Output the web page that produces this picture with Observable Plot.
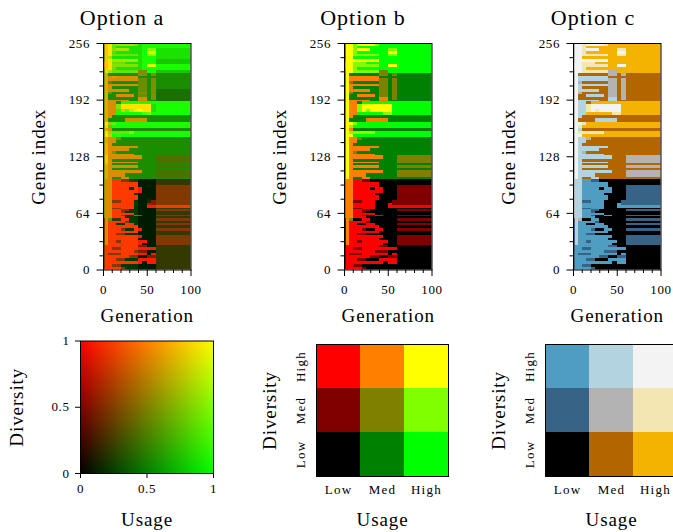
<!DOCTYPE html>
<html>
<head>
<meta charset="utf-8">
<script src="https://cdn.jsdelivr.net/npm/d3@7"></script>
<script src="https://cdn.jsdelivr.net/npm/@observablehq/plot@0.6"></script>
<style>
html,body{margin:0;padding:0;background:#fff;overflow:hidden}
#page{position:relative;width:673px;height:532px;overflow:hidden;font-family:"Liberation Serif",serif;color:#000}
#page svg{position:absolute;overflow:visible;background:none}
#page svg text{font-family:"Liberation Serif",serif;letter-spacing:.6px}
#page svg.lvl text{letter-spacing:1.3px}
#page svg g[aria-label="x-axis label"] text,#page svg g[aria-label="y-axis label"] text{font-size:19px;letter-spacing:.9px}
.title{position:absolute;font-size:22px;letter-spacing:1px;transform:translateX(-50%);white-space:nowrap;line-height:1}
</style>
</head>
<body>
<div id="page"></div>
<script>
const titles = ["Option a", "Option b", "Option c"];
const levels = ["Low", "Med", "High"];
const paletteB = ["#000000","#008000","#00ff00","#800000","#808000","#80ff00","#ff0000","#ff8000","#ffff00"];
const paletteC = ["#000000","#b36600","#f3b300","#376387","#b3b3b3","#f3e6b3","#509dc2","#b4d3e1","#f3f3f3"];
const diversityShade = [0,.1,.2,.3,.42,.5,.65,.85,1,1];
const geneTicks = [0,64,128,192,256];
const geneMinor = [16,32,48,80,96,112,144,160,176,208,224,240];
const genTicks = [0,50,100];
const genMinor = [10,20,30,40,60,70,80,90];
const unitTicks = [0,0.5,1];
const genEdges = [0,2,6,10,15,20,25,30,35,40,45,50,55,60,100];
const geneEdges = [256,253,250,247,244,241,238,235,232,229,225,222,
219,216,213,210,207,204,201,198,195,192,190,
187,184,181,178,175,
171,167,163,160,156.5,153,150,
146,143,140,137,134,131,129,125,122,120,118,115,112,109,105,102,
99,96,93,90,87,84,81,78,75,73,70,68,66,64,62,60,58,
55,52,50,47,44,41,39,36,33,30,28,
25,22,19,16,13,10,6,3,0];
const usageRows = [
"57888888889999","57888888889999","57888888889998","57888888889998","57888888889998","57888888889998","57888888889997","57888888889997","57888888889999","57888888889999","58888888855997",
"56555555555555","56555555555555","56555555555555","56555555555555","56555555555555","56555555555555","56555555555554","56555555555554","56555555555554","56555555555554","56555555555554",
"56555999999999","56558888888889","56558888888889","56558899998889","56559999999999",
"56555555555555","56555555555555","58799999999999","58799999999999","56555555555555","58888889999999","58799999999999",
"56555555555555","56555555555555","56555555555555","56555555555555","56555555555555","56555555555555","56555555555555","57555555555554","57555555555554","57555555555554","56555555555555","56555555555554","56555555555555","56555555555554","56555555555554","56555555555555",
"55522222211112","55522222211112","55522222211112","55522222211112","55522222211112","55522222211112","55522222211112","55522222211112","55522222211112","55522222211112","55522222211112","55522222211112","55522222211112","55522222211112","55522222211112","55522222211112","55522222211112",
"25522222211112","25222222211112","25222222211112","25222222211112","25222222211112","25222222211112","25222222211112","25222222211112","25222222211112","25222222211112","25222222211112",
"22222222211112","22222222211112","22222222211112","22222222211112","22222222211112","22222222211112","22222222211112","22222222211112","22222222211112"
];
const diversityRows = [
"58856666511111","58841111111111","58856661111551","58831111111771","58844444411551","58611111111111","58866666611111","78844411111111","78855555511771","68841111111111","57644444455111",
"57111111155151","57787777711111","57777777744151","57311111144151","57777777744151","57711111144151","57777771144151","57411111155151","57117777144151","57111111177151","57777771177111",
"57771111111111","57775999988811","57775999988811","57773636788811","57771111113411",
"57711111111111","57111177777111","58631111111111","57411111111111","57711111111111","58544444111111","58712111111111",
"57775111111111","57771111111111","58711111111111","58777777711111","58777771111111","58751111111111","58777777111111","58777777771113","58711111111113","58777777711113","58711111111111","57777777711113","57711111111111","57777777771113","57777711111113","57711771111111",
"57788552100002","57788888800002","57788888800105","57788880880005","57788888880005","57788888000005","57788888800005","57788888800105","57755888000255","57788888100655","57788888000888","57755888000002","57788550000005","57788500000002","57788888000002","57788500880005","57788800000002",
"57422880000005","57888850000002","57880088000005","57888888800002","57888500880005","57888888800002","57885500000002","57888888880005","57888888800005","57885888888005","57888888880005",
"58888888855002","58855888888882","58888888555002","58555888888082","58888885500552","58885500088992","58888888880992","58855000000002","58888500000002"
];

const page = document.getElementById("page");
const level = v => v < 3 ? 0 : v < 6 ? 1 : 2;
const cells = usageRows.flatMap((row, r) => [...row].map((c, k) => {
  const u = +c, d = +diversityRows[r][k];
  return {g1: genEdges[k], g2: genEdges[k+1], y1: geneEdges[r+1], y2: geneEdges[r], u, d, cls: level(d)*3 + level(u)};
}));
const mix = (u, d) => `rgb(${Math.round(d*255)},${Math.round(u*255)},0)`;
const fills = [c => mix(c.u/9, diversityShade[c.d]), c => paletteB[c.cls], c => paletteC[c.cls]];
const frameLefts = [102.5, 344, 573];
const blank = () => "";

function place(svg, left, top) {
  svg.style.left = left + "px";
  svg.style.top = top + "px";
  page.appendChild(svg);
}

titles.forEach((t, i) => {
  const d = document.createElement("div");
  d.className = "title"; d.textContent = t;
  d.style.left = [122, 363, 593][i] + "px"; d.style.top = "7px";
  page.appendChild(d);
  const svg = Plot.plot({
    width: 190, height: 340,
    marginLeft: 80, marginRight: 22.5, marginTop: 43, marginBottom: 70.5,
    x: {domain: [0,100]}, y: {domain: [0,256]},
    color: {type: "identity"},
    marks: [
      Plot.rect(cells, {x1: "g1", x2: "g2", y1: "y1", y2: "y2", fill: fills[i], shapeRendering: "crispEdges", imageFilter: "blur(0.6px)", clip: "frame"}),
      Plot.axisY({ticks: geneMinor, tickSize: 3.5, tickFormat: blank, label: null}),
      Plot.axisX({ticks: genMinor, tickSize: 3.5, tickFormat: blank, label: null}),
      Plot.axisY({ticks: geneTicks, tickSize: 6.5, tickPadding: 7, fontSize: 13, label: "Gene index", labelAnchor: "center", labelArrow: "none", labelOffset: 72}),
      Plot.axisX({ticks: genTicks, tickSize: 6.5, tickPadding: 8, fontSize: 13, label: "Generation", labelAnchor: "center", labelArrow: "none", labelOffset: 52}),
      Plot.frame({stroke: "#000", strokeWidth: 1})
    ]
  });
  place(svg, frameLefts[i] - 80, 0);
});

// continuous legend
place(Plot.plot({
  width: 213, height: 192,
  marginLeft: 80, marginRight: 0, marginTop: 0.5, marginBottom: 59,
  x: {domain: [0,1]}, y: {domain: [0,1]},
  color: {type: "identity"},
  marks: [
    Plot.raster({x1: 0, x2: 1, y1: 0, y2: 1, fill: (x, y) => mix(x, y), pixelSize: 1}),
    Plot.axisY({ticks: unitTicks, tickFormat: d => String(d), tickSize: 5, tickPadding: 6, fontSize: 13, label: "Diversity", labelAnchor: "center", labelArrow: "none", labelOffset: 71}),
    Plot.axisX({ticks: unitTicks, tickFormat: d => String(d), tickSize: 5, tickPadding: 5, fontSize: 13, label: "Usage", labelAnchor: "center", labelArrow: "none", labelOffset: 52}),
    Plot.frame({stroke: "#000", strokeWidth: 1})
  ]
}), 0, 340);

// three-level legends
const legendCells = levels.flatMap((dl, di) => levels.map((ul, ui) => ({usage: ul, diversity: dl, cls: di*3 + ui})));
[paletteB, paletteC].forEach((pal, i) => {
  place(Plot.plot({
    className: "lvl",
    width: 192, height: 192,
    marginLeft: 60, marginRight: 0, marginTop: 4, marginBottom: 56,
    x: {domain: levels, padding: 0}, y: {domain: [...levels].reverse(), padding: 0},
    color: {type: "identity"},
    marks: [
      Plot.cell(legendCells, {x: "usage", y: "diversity", fill: c => pal[c.cls], shapeRendering: "crispEdges"}),
      Plot.axisY({tickSize: 0, tickPadding: 12, tickRotate: -90, fontSize: 13, label: "Diversity", labelAnchor: "center", labelArrow: "none", labelOffset: 54}),
      Plot.axisX({tickSize: 0, tickPadding: 8, fontSize: 13, label: "Usage", labelAnchor: "center", labelArrow: "none", labelOffset: 49}),
      Plot.frame({stroke: "#000", strokeWidth: 1})
    ]
  }), [315.5, 544.5][i] - 60, 340);
  page.lastChild.classList.add("lvl");
});
</script>
</body>
</html>
